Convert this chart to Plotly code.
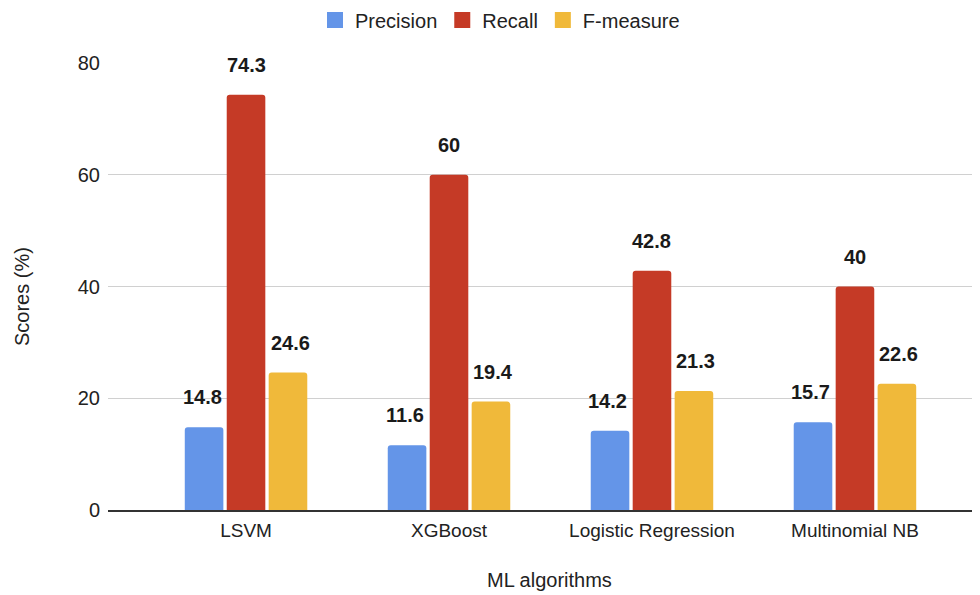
import plotly.graph_objects as go

categories = ["LSVM", "XGBoost", "Logistic Regression", "Multinomial NB"]
precision = [14.8, 11.6, 14.2, 15.7]
recall = [74.3, 60, 42.8, 40]
f_measure = [24.6, 19.4, 21.3, 22.6]
series_names = ["Precision", "Recall", "F-measure"]
y_ticks = [0, 20, 40, 60, 80]

series_values = [precision, recall, f_measure]
colors = ["#6495e8", "#c53a26", "#f0b93a"]
offsets = [-44, 0, 44]

FONT = "Liberation Sans, Arial, Helvetica, sans-serif"
TXT = "#222222"

# page has an 8px body margin; figure sized to fill the rest
W, H = 972, 587
L, T, B = 100, 55, 85
PW, PH = W - L, H - T - B

fig = go.Figure()
for name, vals, col in zip(series_names, series_values, colors):
    fig.add_trace(go.Bar(x=categories, y=vals, name=name, showlegend=False,
                         marker=dict(color=col, line=dict(width=0), cornerradius=3)))
# legend entries with larger square swatches
for name, col in zip(series_names, colors):
    fig.add_trace(go.Scatter(x=[None], y=[None], mode="markers", name=name,
                             marker=dict(symbol="square", size=16, color=col)))

for vals, dx in zip(series_values, offsets):
    for c, v in zip(categories, vals):
        fig.add_annotation(x=c, y=v, text=f"<b>{v:g}</b>", showarrow=False,
                           xshift=dx, yshift=17, yanchor="bottom",
                           font=dict(family=FONT, size=20, color="#1a1a1a"))

# axis titles
fig.add_annotation(xref="paper", yref="paper", x=(541 - L) / PW, y=(H - B - 572) / PH,
                   text="ML algorithms", showarrow=False, xanchor="center", yanchor="middle",
                   font=dict(family=FONT, size=20, color=TXT))
fig.add_annotation(xref="paper", yref="paper", x=(14 - L) / PW, y=(H - B - 289) / PH,
                   text="Scores (%)", showarrow=False, textangle=-90,
                   xanchor="center", yanchor="middle",
                   font=dict(family=FONT, size=20, color=TXT))

fig.update_layout(
    width=W, height=H,
    margin=dict(l=L, r=0, t=T, b=B, autoexpand=False),
    paper_bgcolor="white", plot_bgcolor="white",
    font=dict(family=FONT, size=20, color=TXT),
    barmode="group", bargap=0.38, bargroupgap=0.08,
    legend=dict(orientation="h", xref="paper", yref="paper",
                x=(492 - L) / PW, xanchor="center",
                y=(H - B - 12) / PH, yanchor="middle",
                font=dict(size=20, color=TXT), traceorder="normal",
                itemsizing="trace", itemwidth=30),
    showlegend=True,
)
fig.update_xaxes(range=[-0.68, 3.616], showgrid=False, showline=True,
                 linecolor="#333333", linewidth=1.5, ticks="",
                 automargin=False, ticklabelstandoff=2,
                 tickfont=dict(size=19, color=TXT))
fig.update_yaxes(range=[0, 80], tickvals=y_ticks, showgrid=True,
                 gridcolor="#d0d0d0", gridwidth=1, zeroline=False,
                 automargin=False, ticklabelstandoff=7,
                 tickfont=dict(size=20, color=TXT))

fig.write_html("out.html")
